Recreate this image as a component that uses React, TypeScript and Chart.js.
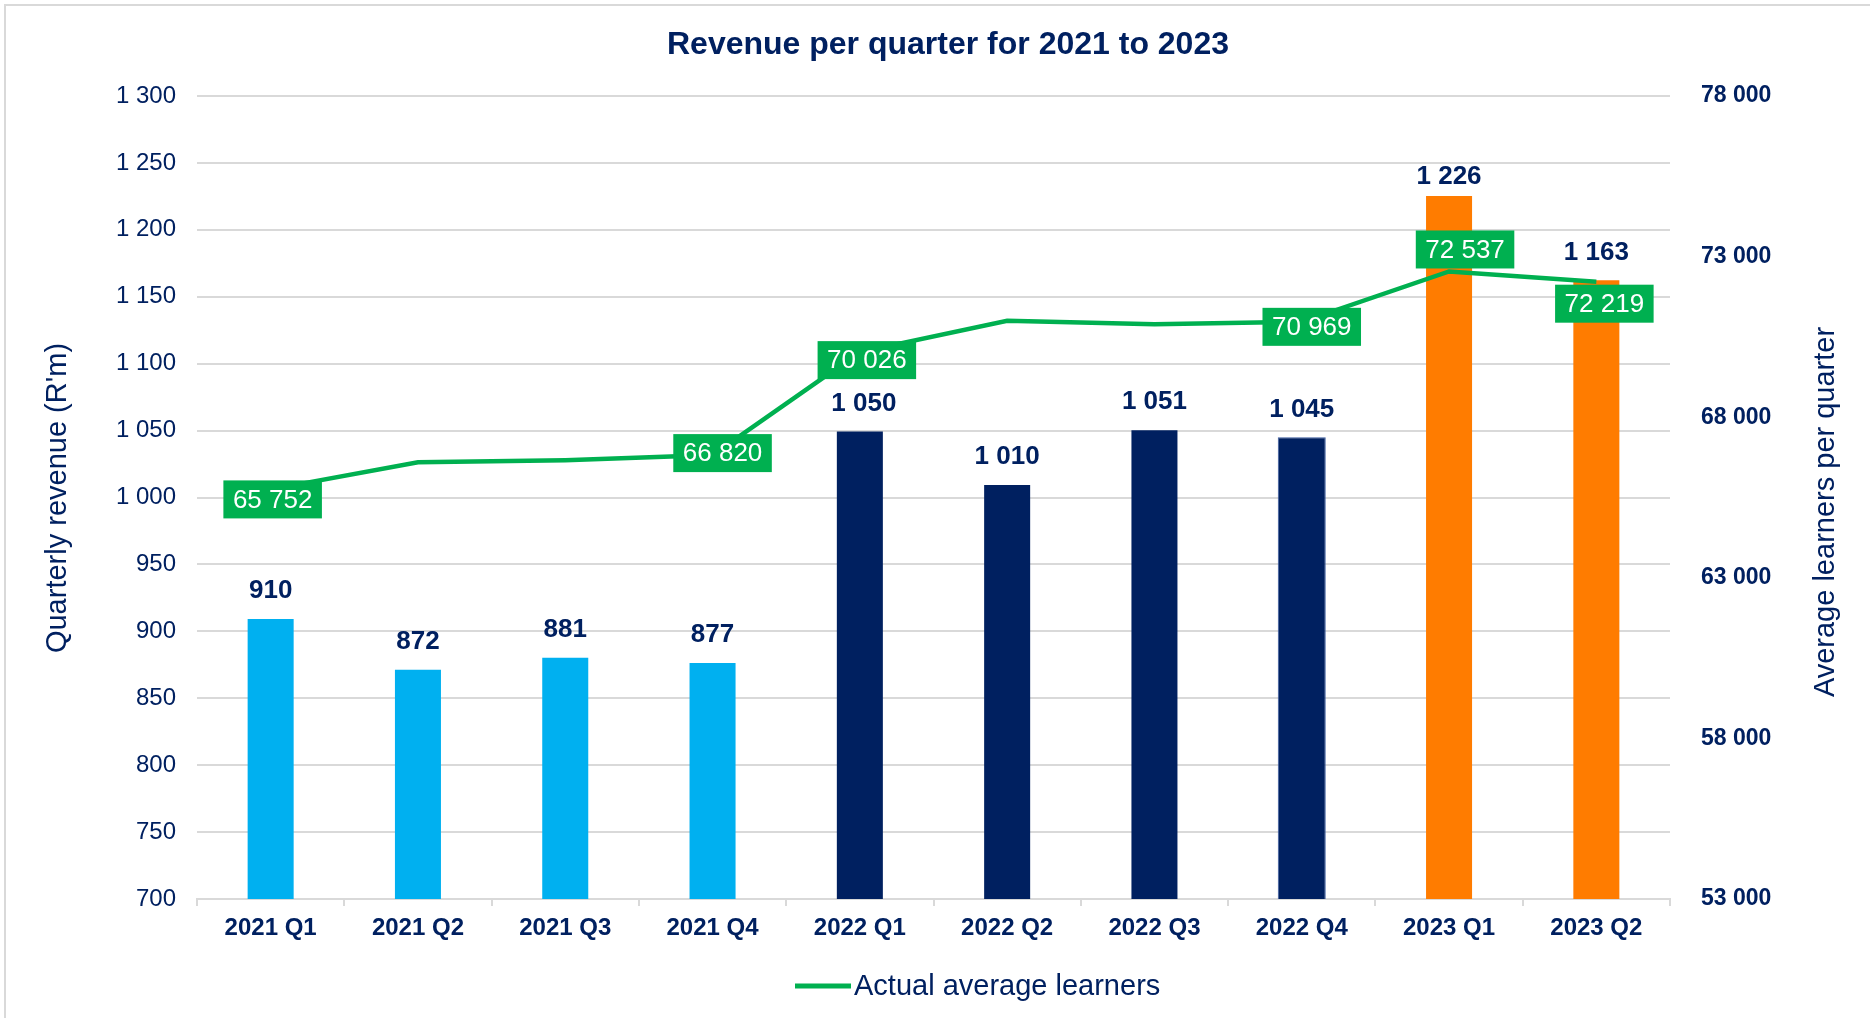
import React, { useEffect, useRef } from 'react';
import { Chart, registerables } from 'chart.js';

Chart.register(...registerables);

const categories = ['2021 Q1', '2021 Q2', '2021 Q3', '2021 Q4', '2022 Q1', '2022 Q2', '2022 Q3', '2022 Q4', '2023 Q1', '2023 Q2'];
const revenue = [910, 872, 881, 877, 1050, 1010, 1051, 1045, 1226, 1163];
const learners = [65752, 66600, 66660, 66820, 70026, 71000, 70890, 70969, 72537, 72219];
const labelledLearnerPoints = [0, 3, 4, 7, 8, 9];
const revenueAxis = { min: 700, max: 1300, step: 50 };
const learnersAxis = { min: 53000, max: 78000, step: 5000 };

const chartTitle = 'Revenue per quarter for 2021 to 2023';
const leftAxisTitle = "Quarterly revenue (R'm)";
const rightAxisTitle = 'Average learners per quarter';
const lineSeriesName = 'Actual average learners';

// style / layout config (not data)
const FONT = '"Liberation Sans", Arial, Helvetica, sans-serif';
const NAVY = '#002060';
const GREEN = '#00B050';
const GRID = '#D9D9D9';
const barColors = ['#00B0F0', '#00B0F0', '#00B0F0', '#00B0F0', '#002060', '#002060', '#002060', '#002060', '#FF7C00', '#FF7C00'];
const barBorders = ['transparent', 'transparent', 'transparent', 'transparent', 'transparent', 'transparent', 'transparent', '#3A5BA0', 'transparent', 'transparent'];
const lineLabelShift: Record<number, [number, number]> = {
  0: [2, 10], 3: [10, -2], 4: [7, 8], 7: [10, 5], 8: [16, -22], 9: [8, 22],
};
const barLabelShift: Record<number, [number, number]> = { 4: [4, 0], 8: [0, 9] };

const fmt = (n: number) => String(Math.round(n)).replace(/\B(?=(\d{3})+(?!\d))/g, ' ');

const decor = {
  id: 'decor',
  beforeDraw(chart: any) {
    const ctx = chart.ctx;
    ctx.save();
    ctx.fillStyle = '#ffffff';
    ctx.fillRect(0, 0, chart.width, chart.height);
    // frame
    ctx.strokeStyle = GRID;
    ctx.lineWidth = 2;
    ctx.beginPath();
    ctx.moveTo(5, chart.height);
    ctx.lineTo(5, 5);
    ctx.lineTo(chart.width, 5);
    ctx.stroke();
    // title
    ctx.fillStyle = NAVY;
    ctx.font = `bold 32px ${FONT}`;
    ctx.textAlign = 'center';
    ctx.textBaseline = 'middle';
    ctx.fillText(chartTitle, 948, 45);
    // axis titles
    ctx.font = `29px ${FONT}`;
    ctx.save();
    ctx.translate(58, 498);
    ctx.rotate(-Math.PI / 2);
    ctx.fillText(leftAxisTitle, 0, 0);
    ctx.restore();
    ctx.save();
    ctx.translate(1826, 512);
    ctx.rotate(-Math.PI / 2);
    ctx.fillText(rightAxisTitle, 0, 0);
    ctx.restore();
    // legend
    ctx.strokeStyle = GREEN;
    ctx.lineWidth = 5;
    ctx.beginPath();
    ctx.moveTo(795, 986);
    ctx.lineTo(851, 986);
    ctx.stroke();
    ctx.textAlign = 'left';
    ctx.fillText(lineSeriesName, 854, 987);
    ctx.restore();
  },
  afterDatasetsDraw(chart: any) {
    const ctx = chart.ctx;
    ctx.save();
    const barMeta = chart.getDatasetMeta(1);
    ctx.font = `bold 26px ${FONT}`;
    ctx.fillStyle = NAVY;
    ctx.textAlign = 'center';
    ctx.textBaseline = 'middle';
    barMeta.data.forEach((el: any, i: number) => {
      const [dx, dy] = barLabelShift[i] || [0, 0];
      ctx.fillText(fmt(revenue[i]), el.x + dx, el.y - 27 + dy);
    });
    const lineMeta = chart.getDatasetMeta(0);
    ctx.font = `26px ${FONT}`;
    labelledLearnerPoints.forEach((i) => {
      const el = lineMeta.data[i];
      const [dx, dy] = lineLabelShift[i] || [0, 0];
      const txt = fmt(learners[i]);
      const w = ctx.measureText(txt).width + 19;
      const h = 38;
      const cx = el.x + dx;
      const cy = el.y + dy;
      ctx.fillStyle = GREEN;
      ctx.fillRect(cx - w / 2, cy - h / 2, w, h);
      ctx.fillStyle = '#ffffff';
      ctx.fillText(txt, cx, cy + 1);
    });
    ctx.restore();
  },
};

export default function App() {
  const ref = useRef<HTMLCanvasElement | null>(null);
  useEffect(() => {
    if (!ref.current) return;
    const chart = new Chart(ref.current, {
      data: {
        labels: categories,
        datasets: [
          {
            type: 'line',
            label: lineSeriesName,
            data: learners,
            yAxisID: 'y1',
            borderColor: GREEN,
            backgroundColor: GREEN,
            borderWidth: 4.5,
            pointRadius: 0,
            tension: 0,
            order: 0,
          } as any,
          {
            type: 'bar',
            label: 'Quarterly revenue',
            data: revenue,
            yAxisID: 'y',
            backgroundColor: barColors,
            borderColor: barBorders,
            borderWidth: 1,
            barPercentage: 0.326,
            categoryPercentage: 1,
            order: 1,
          } as any,
        ],
      },
      options: {
        responsive: false,
        animation: false,
        layout: { padding: { top: 96, bottom: 69, left: 0, right: 0 } },
        plugins: { legend: { display: false }, tooltip: { enabled: false }, title: { display: false } },
        scales: {
          x: {
            type: 'category',
            offset: true,
            grid: { display: true, drawOnChartArea: false, drawTicks: true, tickLength: 7, color: GRID, lineWidth: 2, offset: true },
            border: { display: true, color: GRID, width: 2 },
            ticks: { color: NAVY, font: { family: FONT, size: 24, weight: 'bold' }, padding: 8, maxRotation: 0, autoSkip: false },
            afterFit: (s: any) => { s.height = 50; },
          },
          y: {
            position: 'left',
            min: revenueAxis.min,
            max: revenueAxis.max,
            grid: { color: GRID, lineWidth: 2, drawTicks: false },
            border: { display: false },
            ticks: { stepSize: revenueAxis.step, color: NAVY, font: { family: FONT, size: 24 }, padding: 21, callback: (v: any) => fmt(Number(v)) },
            afterFit: (s: any) => { s.width = 197; },
          },
          y1: {
            position: 'right',
            min: learnersAxis.min,
            max: learnersAxis.max,
            grid: { display: false, drawTicks: false },
            border: { display: false },
            ticks: { stepSize: learnersAxis.step, color: NAVY, font: { family: FONT, size: 23, weight: 'bold' }, padding: 31, callback: (v: any) => fmt(Number(v)) },
            afterFit: (s: any) => { s.width = 200; },
          },
        },
      } as any,
      plugins: [decor],
    });
    return () => chart.destroy();
  }, []);
  return (
    <div style={{ position: 'absolute', left: 0, top: 0, width: 1870, height: 1018, background: '#fff' }}>
      <canvas ref={ref} width={1870} height={1018} style={{ display: 'block' }} />
    </div>
  );
}
